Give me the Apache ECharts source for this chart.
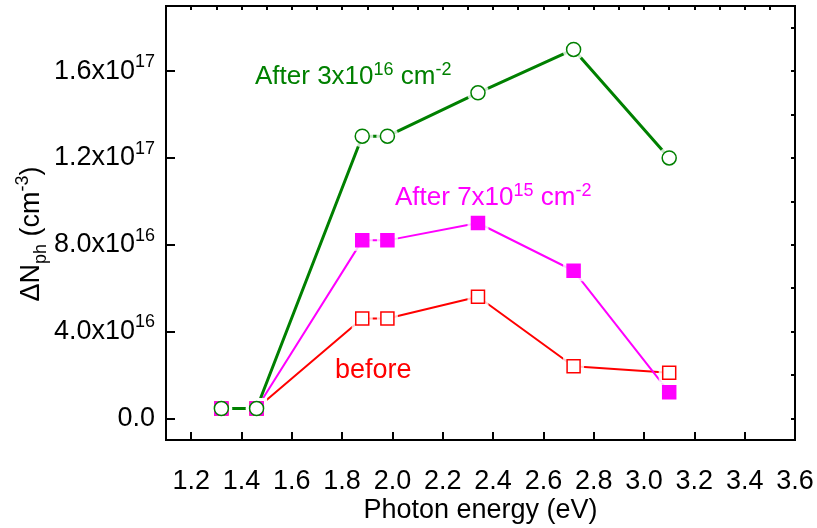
<!DOCTYPE html>
<html>
<head>
<meta charset="utf-8">
<script src="https://cdn.jsdelivr.net/npm/echarts@6/dist/echarts.min.js"></script>
<style>
html,body{margin:0;padding:0;background:#fff;}
#chart{width:817px;height:528px;}
</style>
</head>
<body>
<div id="chart"></div>
<script>
// ---- data ----
const photonEnergy = [1.32, 1.46, 1.88, 1.98, 2.34, 2.72, 3.10];
const before      = [0.45e16, 0.45e16, 4.6e16, 4.6e16, 5.6e16, 2.4e16, 2.1e16];
const after7e15   = [0.45e16, 0.45e16, 8.2e16, 8.2e16, 9.0e16, 6.8e16, 1.2e16];
const after3e16   = [0.45e16, 0.45e16, 1.3e17, 1.3e17, 1.5e17, 1.7e17, 1.2e17];
const xTickLabels = ['1.2','1.4','1.6','1.8','2.0','2.2','2.4','2.6','2.8','3.0','3.2','3.4','3.6'];
const yTickLabels = ['0.0','4.0x10^16','8.0x10^16','1.2x10^17','1.6x10^17'];

// ---- layout ----
const W = 817, H = 528;
const L = 166, R = 795, T = 6, B = 440;
const xMin = 1.1, xMax = 3.6, yMin = -1e16, yMax = 1.9e17;
const px = v => L + (v - xMin) / (xMax - xMin) * (R - L);
const py = v => B - (v - yMin) / (yMax - yMin) * (B - T);

const FONT = 'Liberation Sans, Arial, sans-serif';
const GREEN = '#008000', MAGENTA = '#FF00FF', RED = '#FF0000';

function pairs(ys){ return photonEnergy.map((x,i)=>[x, ys[i]]); }

function yLabel(v){
  for (const s of yTickLabels){
    const parts = s.split('^');
    const val = parts.length > 1 ? parseFloat(parts[0].replace('x10','')) * Math.pow(10, +parts[1]) : parseFloat(parts[0]);
    if (Math.abs(val - v) < 1e13) {
      return parts.length > 1 ? '{m|' + parts[0] + '}{s|' + parts[1] + '}' : '{m|' + parts[0] + '}';
    }
  }
  return '';
}
function xLabel(v){
  const s = v.toFixed(1);
  return xTickLabels.indexOf(s) >= 0 ? s : '';
}

const lineSeries = (data, color, w) => ({
  type: 'line', xAxisIndex: 0, yAxisIndex: 0, data: pairs(data),
  symbol: 'none', showSymbol: false, lineStyle: {color, width: w}, z: 2, silent: true
});
const haloSeries = (data, symbol, size) => ({
  type: 'scatter', xAxisIndex: 0, yAxisIndex: 0, data: pairs(data),
  symbol, symbolSize: size + 8, itemStyle: {color: '#fff', borderWidth: 0}, z: 3, silent: true
});
const markSeries = (data, symbol, size, fill, stroke) => ({
  type: 'scatter', xAxisIndex: 0, yAxisIndex: 0, data: pairs(data),
  symbol, symbolSize: size, itemStyle: {color: fill, borderColor: stroke, borderWidth: 1.5, opacity: 1}, z: 4, silent: true
});

const chart = echarts.init(document.getElementById('chart'), null, {renderer: 'canvas'});
const option = {
  animation: false,
  backgroundColor: '#fff',
  textStyle: {fontFamily: FONT},
  grid: [
    {left: L, right: W - R, top: T, bottom: H - B, show: true, borderColor: '#000', borderWidth: 2, backgroundColor: 'transparent'},
    {left: px(1.2), right: W - R, top: T, bottom: H - B},
    {left: L, right: W - R, top: T, bottom: H - py(0)}
  ],
  xAxis: [
    {gridIndex: 0, type: 'value', min: xMin, max: xMax,
     axisLine: {show: true, onZero: false, lineStyle: {color: '#000', width: 2}},
     axisTick: {show: false}, axisLabel: {show: false}, splitLine: {show: false}},
    {gridIndex: 1, type: 'value', min: 1.2, max: 3.6, interval: 0.2,
     axisLine: {show: false, onZero: false},
     axisTick: {show: true, inside: true, length: 8, lineStyle: {color: '#000', width: 2}},
     axisLabel: {show: true, formatter: xLabel, fontSize: 27, color: '#000', margin: 28, fontFamily: FONT},
     splitLine: {show: false}},
    {gridIndex: 1, type: 'value', min: 1.2, max: 3.6, interval: 0.1,
     axisLine: {show: false, onZero: false},
     axisTick: {show: true, inside: true, length: 4, lineStyle: {color: '#000', width: 2}},
     axisLabel: {show: false}, splitLine: {show: false}},
    {gridIndex: 2, type: 'value', min: xMin, max: xMax, show: false}
  ],
  yAxis: [
    {gridIndex: 0, type: 'value', min: yMin, max: yMax,
     axisLine: {show: true, onZero: false, lineStyle: {color: '#000', width: 2}},
     axisTick: {show: false}, axisLabel: {show: false}, splitLine: {show: false}},
    {gridIndex: 1, type: 'value', min: yMin, max: yMax, show: false},
    {gridIndex: 2, type: 'value', min: 0, max: yMax, interval: 4e16,
     axisLine: {show: false, onZero: false},
     axisTick: {show: true, inside: true, length: 9, lineStyle: {color: '#000', width: 2}},
     axisLabel: {show: true, formatter: yLabel, margin: 11, color: '#000',
       rich: {
         m: {fontSize: 27, fontFamily: FONT, color: '#000', lineHeight: 36},
         s: {fontSize: 18, fontFamily: FONT, color: '#000', lineHeight: 18, verticalAlign: 'top'}
       }},
     splitLine: {show: false}},
    {gridIndex: 2, type: 'value', min: 0, max: yMax, interval: 2e16,
     axisLine: {show: false, onZero: false},
     axisTick: {show: true, inside: true, length: 4, lineStyle: {color: '#000', width: 2}},
     axisLabel: {show: false}, splitLine: {show: false}}
  ],
  series: [
    lineSeries(before, RED, 2),
    lineSeries(after7e15, MAGENTA, 2),
    lineSeries(after3e16, GREEN, 3),
    haloSeries(before, 'rect', 13),
    haloSeries(after7e15, 'rect', 13),
    haloSeries(after3e16, 'circle', 14),
    markSeries(before, 'rect', 13, '#fff', RED),
    markSeries(after7e15, 'rect', 13, MAGENTA, MAGENTA),
    markSeries(after3e16, 'circle', 14, '#fff', GREEN)
  ],
  graphic: [
    {type: 'text', x: (L + R) / 2, y: 511, silent: true,
     style: {text: 'Photon energy (eV)', fill: '#000', font: '27px ' + FONT, align: 'center', verticalAlign: 'middle'}},
    {type: 'text', x: 32, y: 234, rotation: Math.PI / 2, silent: true,
     style: {text: '{m|ΔN}{sub|ph}{m| (cm}{sup|-3}{m|)}', align: 'center', verticalAlign: 'middle',
       rich: {
         m: {fontSize: 27, fontFamily: FONT, fill: '#000', lineHeight: 36},
         sub: {fontSize: 18, fontFamily: FONT, fill: '#000', lineHeight: 18, verticalAlign: 'bottom'},
         sup: {fontSize: 18, fontFamily: FONT, fill: '#000', lineHeight: 18, verticalAlign: 'top'}
       }}},
    {type: 'text', x: 255, y: 77, silent: true,
     style: {text: '{m|After 3x10}{s|16}{m| cm}{s|-2}', align: 'left', verticalAlign: 'middle',
       rich: {
         m: {fontSize: 26, fontFamily: FONT, fill: GREEN, lineHeight: 32},
         s: {fontSize: 18, fontFamily: FONT, fill: GREEN, lineHeight: 18, verticalAlign: 'top'}
       }}},
    {type: 'text', x: 395, y: 198, silent: true,
     style: {text: '{m|After 7x10}{s|15}{m| cm}{s|-2}', align: 'left', verticalAlign: 'middle',
       rich: {
         m: {fontSize: 26, fontFamily: FONT, fill: MAGENTA, lineHeight: 32},
         s: {fontSize: 18, fontFamily: FONT, fill: MAGENTA, lineHeight: 18, verticalAlign: 'top'}
       }}},
    {type: 'text', x: 335, y: 371, silent: true,
     style: {text: 'before', fill: RED, font: '27px ' + FONT, align: 'left', verticalAlign: 'middle'}}
  ]
};
chart.setOption(option);
</script>
</body>
</html>
